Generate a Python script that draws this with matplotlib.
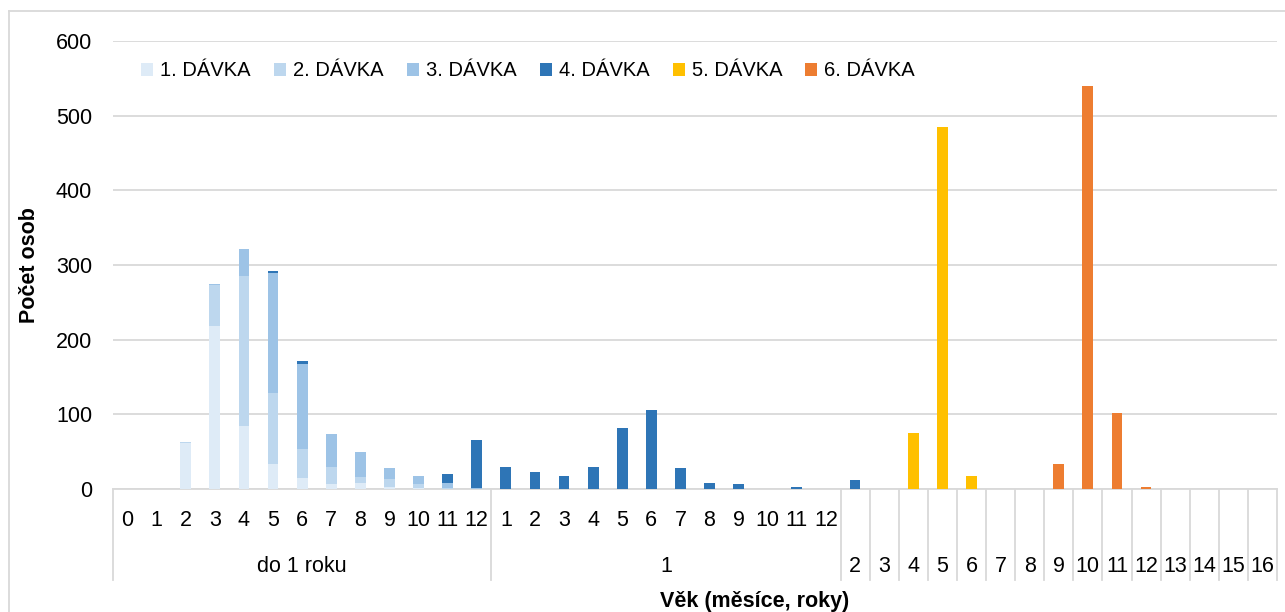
import matplotlib
matplotlib.use('Agg')
import matplotlib.pyplot as plt
from matplotlib.lines import Line2D
import numpy as np

# categories: months 0-12 (do 1 roku), months 1-12 (1 year), years 2-16
months_infant = [str(m) for m in range(0, 13)]
months_one = [str(m) for m in range(1, 13)]
years = [str(y) for y in range(2, 17)]
groups = ["do 1 roku", "1"]

series = ["1. DÁVKA", "2. DÁVKA", "3. DÁVKA", "4. DÁVKA", "5. DÁVKA", "6. DÁVKA"]
colors = ["#DEEBF7", "#BDD7EE", "#9DC3E6", "#2E75B6", "#FFC000", "#ED7D31"]

z12, z15 = [0] * 12, [0] * 15
dose1 = [0, 0, 62, 218, 85, 34, 15, 7, 8, 3, 1, 0, 0] + z12 + z15
dose2 = [0, 0, 1, 55, 200, 94, 39, 23, 8, 11, 6, 1, 0] + z12 + z15
dose3 = [0, 0, 0, 2, 37, 161, 114, 44, 33, 14, 11, 7, 1] + z12 + z15
dose4 = ([0, 0, 0, 0, 0, 3, 3, 0, 1, 0, 0, 12, 65]
         + [29, 23, 18, 30, 82, 106, 28, 8, 7, 0, 3, 0]
         + [12, 0, 0, 0, 0, 0, 0, 0, 0, 0, 0, 0, 0, 0, 0])
dose5 = [0] * 13 + z12 + [0, 0, 75, 485, 18, 0, 0, 0, 0, 0, 0, 0, 0, 0, 0]
dose6 = [0] * 13 + z12 + [0, 0, 0, 0, 0, 0, 0, 33, 540, 102, 3, 0, 0, 0, 0]
data = [dose1, dose2, dose3, dose4, dose5, dose6]

FONT = 'Liberation Sans'
FS = 15.5
LFS = 14.5
GRID = '#D9D9D9'
W, H = 1285, 612

fig = plt.figure(figsize=(W / 100, H / 100), dpi=100)
ax = fig.add_axes([113 / W, 1 - 489 / H, (1277 - 113) / W, (489 - 41) / H])

n = len(months_infant) + len(months_one) + len(years)
x = np.arange(n)
bottom = np.zeros(n)
for name, vals, col in zip(series, data, colors):
    vals = np.array(vals, dtype=float)
    ax.bar(x, vals, width=0.37, bottom=bottom, color=col, label=name, zorder=3)
    bottom += vals

ax.set_xlim(-0.5, n - 0.5)
ax.set_ylim(0, 600)
ax.set_yticks(range(0, 601, 100))
ax.yaxis.grid(True, color=GRID, lw=1.3, zorder=0)
ax.set_xticks([])
for s in ['top', 'right', 'left']:
    ax.spines[s].set_visible(False)
ax.spines['bottom'].set_color(GRID)
ax.spines['bottom'].set_linewidth(1.3)
ax.tick_params(axis='y', length=0, pad=15, labelsize=FS)
for t in ax.get_yticklabels():
    t.set_fontfamily(FONT)

# multi-level category axis
tr = ax.get_xaxis_transform()
ph = 489 - 41
row1 = -(521 - 489) / ph
row2 = -(566 - 489) / ph
bot = -(580 - 489) / ph
for i, lab in enumerate(months_infant + months_one):
    ax.text(i, row1, lab, transform=tr, ha='center', va='center',
            fontsize=FS, fontfamily=FONT)
off = len(months_infant) + len(months_one)
for i, lab in enumerate(years):
    ax.text(off + i, row2, lab, transform=tr, ha='center', va='center',
            fontsize=FS, fontfamily=FONT)
ax.text((len(months_infant) - 1) / 2, row2, groups[0], transform=tr,
        ha='center', va='center', fontsize=FS, fontfamily=FONT)
ax.text(len(months_infant) + (len(months_one) - 1) / 2, row2, groups[1],
        transform=tr, ha='center', va='center', fontsize=FS, fontfamily=FONT)

seps = [-0.5, len(months_infant) - 0.5] + [off - 0.5 + k for k in range(len(years) + 1)]
for sx in seps:
    ax.add_line(Line2D([sx, sx], [0, bot], transform=tr, color=GRID, lw=1.3,
                       clip_on=False))

ax.set_ylabel("Počet osob", fontsize=FS, fontweight='bold', fontfamily=FONT)
ax.yaxis.set_label_coords(-(113 - 40) / (1277 - 113), 0.5)
fig.text(755 / W, 1 - 601 / H, "Věk (měsíce, roky)", ha='center', va='center',
         fontsize=FS, fontweight='bold', fontfamily=FONT)

leg = ax.legend(loc='center left', bbox_to_anchor=(123 / W, 1 - 71 / H),
                bbox_transform=fig.transFigure, ncol=6, frameon=False,
                handlelength=0.6, handleheight=0.6, handletextpad=0.35,
                columnspacing=1.15, prop={'family': FONT, 'size': LFS})

# chart area border
fig.add_artist(Line2D([9 / W, 1], [1 - 11 / H] * 2, transform=fig.transFigure,
                      color=GRID, lw=1.3))
fig.add_artist(Line2D([9 / W] * 2, [0, 1 - 11 / H], transform=fig.transFigure,
                      color=GRID, lw=1.3))

fig.savefig('out.png', dpi=100)
